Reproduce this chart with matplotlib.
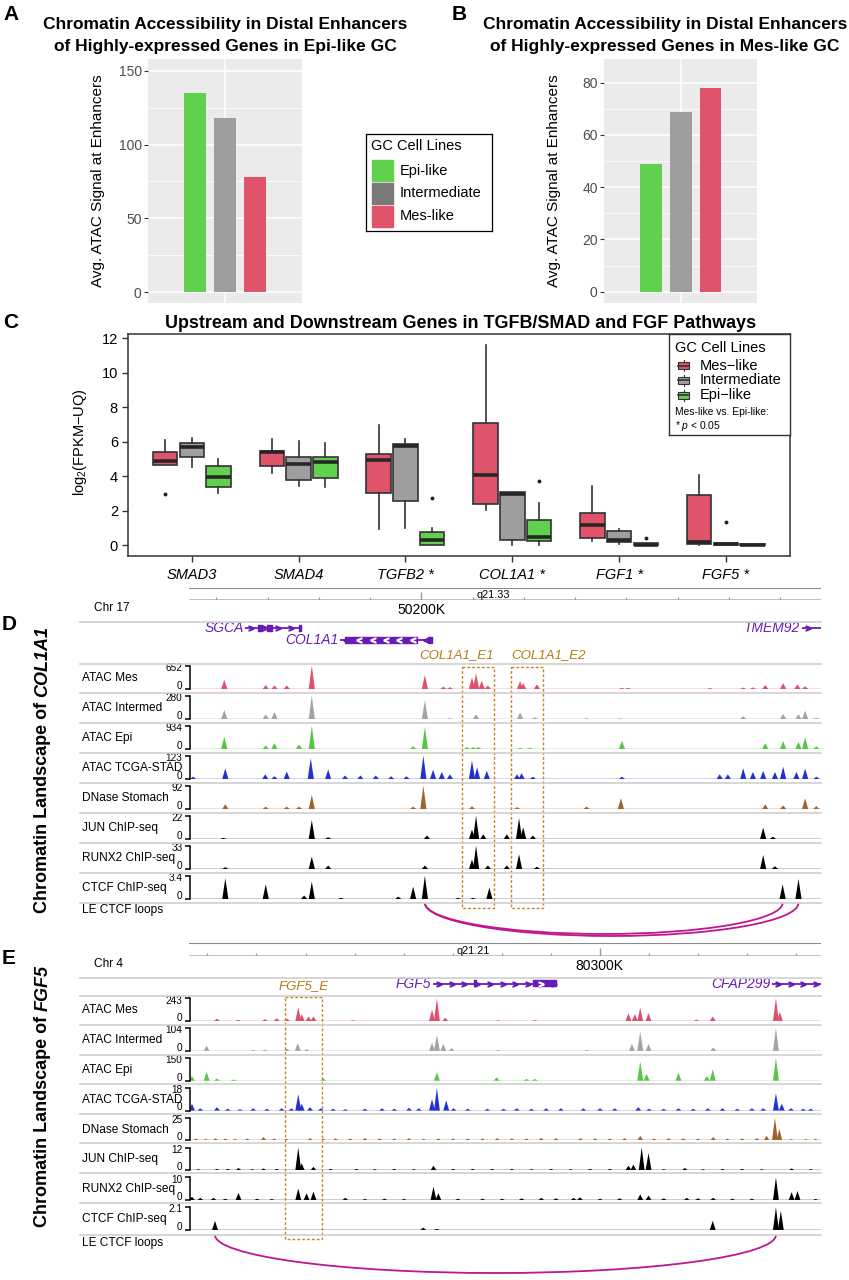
import numpy as np
import matplotlib
matplotlib.use('Agg')
import matplotlib.pyplot as plt
from matplotlib.patches import Rectangle, Arc
from matplotlib.lines import Line2D

plt.rcParams['font.family'] = ['Liberation Sans', 'DejaVu Sans']
plt.rcParams['mathtext.fontset'] = 'custom'
plt.rcParams['mathtext.rm'] = 'Liberation Sans'
plt.rcParams['mathtext.it'] = 'Liberation Sans:italic'
plt.rcParams['mathtext.bf'] = 'Liberation Sans:bold'

# ---------------- data ----------------
cell_lines = ['Epi-like', 'Intermediate', 'Mes-like']
cell_colors = ['#61D04F', '#9E9E9E', '#DF536B']
legend_key_colors = ['#61D04F', '#7A7A7A', '#DF536B']
epi_gc_signal = [134.7, 117.8, 78.3]
mes_gc_signal = [48.9, 69.0, 78.0]

genes_c = ['SMAD3', 'SMAD4', 'TGFB2 *', 'COL1A1 *', 'FGF1 *', 'FGF5 *']
mes_lo = [4.65, 4.2, 0.93, 2.03, 0.23, 0.0]
mes_q1 = [4.65, 4.61, 3.02, 2.38, 0.41, 0.04]
mes_med = [4.9, 5.37, 4.94, 4.07, 1.16, 0.16]
mes_q3 = [5.37, 5.48, 5.29, 7.1, 1.88, 2.89]
mes_hi = [6.1, 6.16, 6.98, 11.6, 3.45, 4.09]
mes_out = [[2.98], [], [], [], [], []]
int_lo = [4.55, 3.45, 0.97, 0.0, 0.04, 0.0]
int_q1 = [5.13, 3.78, 2.58, 0.29, 0.16, 0.0]
int_med = [5.68, 4.69, 5.77, 2.98, 0.31, 0.05]
int_q3 = [5.95, 5.1, 5.87, 3.06, 0.81, 0.14]
int_hi = [6.2, 6.06, 6.16, 3.06, 0.93, 0.14]
int_out = [[], [], [], [], [], [1.34]]
epi_lo = [3.04, 3.35, 0.0, 0.0, 0.0, 0.0]
epi_q1 = [3.39, 3.88, 0.0, 0.25, 0.0, 0.0]
epi_med = [3.93, 4.84, 0.31, 0.48, 0.03, 0.03]
epi_q3 = [4.59, 5.1, 0.77, 1.47, 0.09, 0.08]
epi_hi = [5.0, 5.95, 0.97, 2.46, 0.09, 0.08]
epi_out = [[], [], [2.7], [3.74], [0.39], []]

track_names = ['ATAC Mes', 'ATAC Intermed', 'ATAC Epi', 'ATAC TCGA-STAD',
               'DNase Stomach', 'JUN ChIP-seq', 'RUNX2 ChIP-seq', 'CTCF ChIP-seq']
track_colors = ['#E0506A', '#A3A3A3', '#55C843', '#2231D2', '#A0612B',
                'black', 'black', 'black']

# panel D: chr17 window (kb), peak heights relative to track max
d_max = ['652', '280', '934', '123', '92', '22', '33', '3.4']
d_mes_x = [50161.4, 50169.5, 50171.2, 50173.6, 50178.5, 50200.6, 50204.2, 50205.5, 50209.8,
           50210.6, 50211.7, 50212.9, 50219.2, 50219.8, 50222.5, 50239.1, 50240.3, 50256.3,
           50262.8, 50264.7, 50267.1, 50270.6, 50273.4, 50274.9]
d_mes_y = [0.39, 0.17, 0.15, 0.15, 1.0, 0.6, 0.1, 0.08, 0.5, 0.67, 0.35, 0.15, 0.34, 0.25,
           0.2, 0.05, 0.05, 0.04, 0.06, 0.07, 0.17, 0.25, 0.2, 0.12]
d_int_x = [50161.4, 50169.5, 50171.2, 50178.5, 50200.6, 50205.5, 50210.6, 50219.2, 50222.1,
           50232.2, 50238.7, 50262.8, 50270.6, 50273.6, 50274.9, 50277.1]
d_int_y = [0.39, 0.2, 0.3, 1.0, 0.8, 0.03, 0.2, 0.28, 0.07, 0.03, 0.03, 0.12, 0.22, 0.2,
           0.35, 0.05]
d_epi_x = [50161.4, 50169.5, 50171.2, 50176.0, 50178.5, 50198.3, 50200.6, 50208.8, 50210.0,
           50211.0, 50219.2, 50221.1, 50239.1, 50267.1, 50270.6, 50273.6, 50274.9, 50277.1]
d_epi_y = [0.53, 0.15, 0.25, 0.2, 1.0, 0.12, 0.95, 0.08, 0.08, 0.08, 0.05, 0.05, 0.35, 0.25,
           0.35, 0.3, 0.5, 0.12]
d_tcga_x = [50155.3, 50161.6, 50169.4, 50171.2, 50173.6, 50178.3, 50181.7, 50185.0, 50188.0,
            50191.0, 50194.0, 50197.0, 50200.3, 50202.2, 50203.9, 50205.5, 50209.8, 50210.8,
            50212.7, 50218.6, 50219.5, 50221.7, 50239.1, 50258.2, 50259.8, 50262.8, 50264.7,
            50266.7, 50269.0, 50270.6, 50273.2, 50274.9, 50277.1]
d_tcga_y = [0.1, 0.46, 0.2, 0.12, 0.32, 0.89, 0.4, 0.15, 0.15, 0.15, 0.12, 0.12, 1.0, 0.4,
            0.3, 0.2, 0.79, 0.5, 0.35, 0.2, 0.25, 0.1, 0.1, 0.2, 0.2, 0.46, 0.3, 0.35, 0.3,
            0.53, 0.3, 0.45, 0.1]
d_dnase_x = [50161.6, 50169.5, 50173.6, 50176.0, 50178.5, 50198.3, 50200.3, 50209.8, 50218.6,
             50232.2, 50238.9, 50267.1, 50270.6, 50274.9, 50277.1]
d_dnase_y = [0.2, 0.1, 0.1, 0.1, 0.6, 0.1, 1.0, 0.12, 0.08, 0.1, 0.46, 0.2, 0.15, 0.46, 0.12]
d_jun_x = [50161.2, 50178.5, 50181.7, 50201.0, 50209.8, 50210.6, 50212.0, 50216.6, 50219.0,
           50219.8, 50221.7, 50266.7, 50268.6]
d_jun_y = [0.05, 0.81, 0.08, 0.15, 0.4, 1.0, 0.2, 0.2, 0.89, 0.5, 0.15, 0.49, 0.1]
d_runx2_x = [50161.6, 50178.5, 50181.7, 50200.6, 50209.8, 50210.6, 50212.9, 50216.6, 50219.0,
             50222.5, 50266.7, 50269.0]
d_runx2_y = [0.08, 0.53, 0.15, 0.15, 0.4, 1.0, 0.15, 0.15, 0.63, 0.1, 0.6, 0.12]
d_ctcf_x = [50161.6, 50169.5, 50177.0, 50178.5, 50184.2, 50195.4, 50198.3, 50200.6, 50207.1,
            50210.0, 50213.2, 50270.5, 50273.6]
d_ctcf_y = [0.89, 0.63, 0.15, 0.74, 0.05, 0.1, 0.53, 1.0, 0.05, 0.05, 0.49, 0.63, 0.86]

d_genes = ['SGCA', 'COL1A1', 'TMEM92']
d_gene_start = [50165.5, 50184.0, 50274.2]
d_gene_end = [50176.3, 50202.0, 50278.0]
d_gene_strand = ['+', '-', '+']
d_gene_row = [0, 1, 0]
d_exons = [[(50168.0, 0.8), (50169.7, 1.0), (50176.0, 0.3)],
           [(50185.0, 14.0), (50201.2, 0.8)],
           []]
d_enh_names = ['COL1A1_E1', 'COL1A1_E2']
d_enh_start = [50207.8, 50217.4]
d_enh_end = [50214.1, 50223.7]
d_loop_a = [50200.6, 50200.6]
d_loop_b = [50270.5, 50273.6]

# panel E: chr4 window (kb)
e_max = ['243', '104', '150', '18', '25', '12', '10', '2.1']
e_mes_x = [80221.8, 80226.1, 80231.6, 80234.0, 80236.1, 80238.4, 80239.1, 80240.5, 80241.5,
           80249.6, 80265.7, 80266.7, 80268.4, 80279.2, 80286.7, 80305.8, 80307.1, 80308.2,
           80309.9, 80319.7, 80323.0, 80335.9, 80336.7]
e_mes_y = [0.1, 0.05, 0.08, 0.12, 0.1, 0.6, 0.3, 0.2, 0.2, 0.03, 0.5, 1.0, 0.15, 0.03, 0.04,
           0.34, 0.3, 0.59, 0.35, 0.06, 0.2, 1.0, 0.4]
e_int_x = [80219.7, 80229.2, 80231.6, 80236.1, 80238.3, 80240.1, 80265.7, 80266.7, 80268.0,
           80269.7, 80279.2, 80297.3, 80306.5, 80308.2, 80309.9, 80323.1, 80335.9]
e_int_y = [0.22, 0.04, 0.05, 0.1, 0.34, 0.08, 0.35, 0.7, 0.3, 0.12, 0.04, 0.04, 0.3, 0.85,
           0.3, 0.15, 1.0]
e_epi_x = [80216.7, 80219.7, 80221.8, 80225.2, 80243.5, 80266.7, 80278.9, 80285.0, 80286.7,
           80308.2, 80309.5, 80316.0, 80321.8, 80323.0, 80335.9]
e_epi_y = [0.2, 0.38, 0.1, 0.05, 0.1, 0.37, 0.15, 0.08, 0.08, 0.84, 0.3, 0.35, 0.2, 0.5, 1.0]
e_tcga_x = [80216.7, 80218.4, 80221.8, 80229.2, 80232.0, 80238.4, 80239.1, 80240.8, 80265.7,
            80266.7, 80268.6, 80270.1, 80280.3, 80296.6, 80307.8, 80319.0, 80333.3, 80335.9,
            80337.1, 80341.5]
e_tcga_y = [0.3, 0.1, 0.15, 0.1, 0.08, 0.72, 0.3, 0.15, 0.5, 0.99, 0.45, 0.1, 0.08, 0.1, 0.15,
            0.08, 0.1, 0.76, 0.3, 0.08]
# low background signal along the TCGA, JUN and RUNX2 tracks
e_tcga_bg_x = [80224.0, 80226.5, 80235.0, 80237.0, 80243.0, 80245.5, 80248.0, 80252.0, 80255.5,
               80258.0, 80261.0, 80263.0, 80273.0, 80277.0, 80283.0, 80286.0, 80289.0, 80292.0,
               80300.0, 80303.0, 80310.0, 80313.0, 80316.0, 80322.0, 80325.0, 80328.0, 80331.0,
               80339.0, 80343.0]
e_tcga_bg_y = [0.08, 0.06, 0.1, 0.1, 0.1, 0.08, 0.06, 0.08, 0.1, 0.08, 0.12, 0.1, 0.08, 0.08,
               0.1, 0.08, 0.1, 0.1, 0.1, 0.1, 0.08, 0.08, 0.1, 0.1, 0.1, 0.08, 0.1, 0.1, 0.08]
e_dnase_x = [80217.5, 80219.5, 80221.5, 80223.5, 80225.5, 80228.0, 80231.3, 80233.5, 80236.0,
             80240.8, 80243.5, 80246.0, 80249.0, 80252.0, 80255.0, 80258.0, 80261.0, 80264.0,
             80267.0, 80270.0, 80273.0, 80276.0, 80279.0, 80282.0, 80285.0, 80288.0, 80291.0,
             80296.0, 80299.0, 80302.0, 80305.0, 80308.2, 80311.0, 80314.0, 80317.0, 80320.0,
             80323.1, 80326.0, 80329.0, 80332.0, 80334.0, 80335.7, 80336.6, 80339.0, 80342.0,
             80344.0]
e_dnase_y = [0.08, 0.07, 0.09, 0.08, 0.07, 0.08, 0.15, 0.08, 0.07, 0.1, 0.07, 0.09, 0.08, 0.1,
             0.09, 0.08, 0.1, 0.07, 0.09, 0.08, 0.08, 0.09, 0.1, 0.09, 0.08, 0.11, 0.1, 0.1,
             0.09, 0.08, 0.1, 0.2, 0.08, 0.1, 0.09, 0.08, 0.15, 0.08, 0.09, 0.1, 0.2, 1.0, 0.5,
             0.06, 0.06, 0.07]
e_jun_x = [80221.8, 80226.2, 80231.3, 80238.4, 80239.1, 80241.5, 80250.3, 80266.0, 80305.8,
           80306.8, 80308.5, 80309.9, 80317.3, 80339.1]
e_jun_y = [0.06, 0.1, 0.08, 1.0, 0.3, 0.15, 0.06, 0.2, 0.2, 0.25, 1.0, 0.76, 0.1, 0.08]
e_jun_bg_x = [80218.0, 80224.0, 80229.0, 80234.0, 80245.0, 80254.0, 80258.0, 80262.0, 80270.0,
              80274.0, 80278.0, 80282.0, 80286.0, 80290.0, 80294.0, 80298.0, 80302.0, 80313.0,
              80321.0, 80325.0, 80329.0, 80333.0, 80343.0]
e_jun_bg_y = [0.05, 0.06, 0.05, 0.06, 0.06, 0.05, 0.06, 0.05, 0.06, 0.06, 0.06, 0.06, 0.05,
              0.06, 0.05, 0.06, 0.06, 0.05, 0.05, 0.06, 0.06, 0.05, 0.05]
e_runx2_x = [80216.7, 80218.4, 80221.1, 80226.2, 80238.4, 80240.1, 80241.5, 80248.0, 80266.0,
             80267.0, 80294.6, 80295.9, 80308.2, 80309.9, 80317.7, 80323.1, 80335.9, 80339.1,
             80340.3]
e_runx2_y = [0.15, 0.1, 0.1, 0.32, 0.51, 0.3, 0.37, 0.1, 0.59, 0.3, 0.1, 0.12, 0.25, 0.2, 0.1,
             0.1, 1.0, 0.35, 0.4]
e_runx2_bg_x = [80223.5, 80230.0, 80233.0, 80252.0, 80256.0, 80260.0, 80271.0, 80276.0,
                80280.0, 80284.0, 80288.0, 80291.0, 80300.0, 80304.0, 80313.0, 80320.0,
                80327.0, 80331.0, 80344.0]
e_runx2_bg_y = [0.06, 0.06, 0.05, 0.05, 0.06, 0.05, 0.06, 0.06, 0.06, 0.08, 0.1, 0.08, 0.06,
                0.08, 0.08, 0.08, 0.06, 0.06, 0.05]
e_ctcf_x = [80221.4, 80263.9, 80266.7, 80323.0, 80335.9, 80336.9]
e_ctcf_y = [0.4, 0.1, 0.05, 0.4, 1.0, 0.84]

e_genes = ['FGF5', 'CFAP299']
e_gene_start = [80265.9, 80335.1]
e_gene_end = [80291.0, 80345.1]
e_gene_strand = ['+', '+']
e_gene_row = [0, 0]
e_exons = [[(80274.3, 0.4), (80286.3, 4.7)], []]
e_enh_names = ['FGF5_E']
e_enh_start = [80235.7]
e_enh_end = [80243.3]
e_loop_a = [80221.4]
e_loop_b = [80335.9]

# ---------------- layout helpers ----------------
W, H = 849, 1280
fig = plt.figure(figsize=(W / 100, H / 100), dpi=100)


def rect(x0, y0, x1, y1):
    return [x0 / W, 1 - y1 / H, (x1 - x0) / W, (y1 - y0) / H]


def fx(x):
    return x / W


def fy(y):
    return 1 - y / H


def hline(y, x0, x1, color='#CFCFCF', lw=1.2):
    fig.add_artist(Line2D([fx(x0), fx(x1)], [fy(y), fy(y)], color=color, lw=lw))


def panel_letter(s, x, y):
    fig.text(fx(x), fy(y), s, fontsize=15, fontweight='bold', ha='left', va='center')


# ---------------- panels A and B ----------------
def bar_panel(box, values, ylim, majors, minors):
    ax = fig.add_axes(rect(*box))
    ax.set_facecolor('#EBEBEB')
    pos = 1 + np.array([-1, 0, 1]) * 0.233
    ax.bar(pos, values, width=0.17, color=cell_colors, zorder=3)
    ax.set_xlim(0.4, 1.6)
    ax.set_ylim(*ylim)
    ax.set_yticks(majors)
    ax.set_yticks(minors, minor=True)
    ax.set_xticks([1])
    ax.grid(which='major', color='white', lw=1.1)
    ax.grid(which='minor', axis='y', color='white', lw=0.55)
    ax.set_axisbelow(True)
    for s in ax.spines.values():
        s.set_visible(False)
    ax.tick_params(axis='x', length=0, labelbottom=False)
    ax.tick_params(axis='y', which='major', length=2.75, color='#333333',
                   labelcolor='#4D4D4D', labelsize=10, pad=2)
    ax.tick_params(axis='y', which='minor', length=0)
    return ax


bar_panel((148.3, 59.3, 301.7, 303.3), epi_gc_signal, (-7.5, 157.7),
          [0, 50, 100, 150], [25, 75, 125])
bar_panel((604.3, 59.3, 757.3, 302.7), mes_gc_signal, (-4.25, 89.0),
          [0, 20, 40, 60, 80], [10, 30, 50, 70])

panel_letter('A', 3, 14)
panel_letter('B', 452, 14)
for xc, who in [(225.5, 'Epi-like'), (665, 'Mes-like')]:
    fig.text(fx(xc), fy(25), 'Chromatin Accessibility in Distal Enhancers',
             fontsize=12.5, fontweight='bold', ha='center', va='center')
    fig.text(fx(xc), fy(47), 'of Highly-expressed Genes in %s GC' % who,
             fontsize=12.5, fontweight='bold', ha='center', va='center')
for xl in [98, 554]:
    fig.text(fx(xl), fy(181), 'Avg. ATAC Signal at Enhancers', rotation=90,
             fontsize=11, ha='center', va='center')

# shared legend for A/B
lg = fig.add_axes(rect(365.7, 134.3, 492.3, 231))
lg.set_xlim(0, 126.6)
lg.set_ylim(96.7, 0)
lg.set_xticks([])
lg.set_yticks([])
for s in lg.spines.values():
    s.set_linewidth(0.9)
    s.set_color('black')
lg.text(5.3, 11.4, 'GC Cell Lines', va='center', fontsize=10.5)
for i, (lab, col) in enumerate(zip(cell_lines, legend_key_colors)):
    y0 = 25.7 + i * 22.85
    lg.add_patch(Rectangle((6, y0), 21, 21, color=col))
    lg.text(34.3, y0 + 10.5, lab, va='center', fontsize=10.5)

# ---------------- panel C ----------------
axC = fig.add_axes(rect(127.7, 334.3, 790, 555.7))
groups = [
    (mes_lo, mes_q1, mes_med, mes_q3, mes_hi, mes_out, '#DF536B', -0.25),
    (int_lo, int_q1, int_med, int_q3, int_hi, int_out, '#9E9E9E', 0.0),
    (epi_lo, epi_q1, epi_med, epi_q3, epi_hi, epi_out, '#61D04F', 0.25),
]
cat_pos = np.arange(1, len(genes_c) + 1)
for lo, q1, med, q3, hi, out, col, off in groups:
    stats = [dict(whislo=lo[i], q1=q1[i], med=med[i], q3=q3[i], whishi=hi[i], fliers=out[i])
             for i in range(len(genes_c))]
    axC.bxp(stats, positions=cat_pos + off, widths=0.23, patch_artist=True,
            showcaps=False, manage_ticks=False,
            boxprops=dict(facecolor=col, edgecolor='#333333', lw=1.2),
            medianprops=dict(color='#262626', lw=2.6, solid_capstyle='butt'),
            whiskerprops=dict(color='#333333', lw=1.2),
            flierprops=dict(marker='o', ms=1.8, mfc='#222222', mec='#222222'))
axC.set_xlim(0.4, 6.6)
axC.set_ylim(-0.62, 12.23)
axC.set_yticks(range(0, 13, 2))
axC.set_xticks(cat_pos)
axC.set_xticklabels(genes_c, fontstyle='italic', fontsize=10.5)
axC.tick_params(axis='both', length=4, width=1, color='#333333', labelsize=10.5)
axC.tick_params(axis='x', pad=5)
axC.tick_params(axis='y', pad=3)
for s in axC.spines.values():
    s.set_color('#333333')
    s.set_linewidth(1.1)
fig.text(fx(80), fy(442), r'$\mathregular{log_2}$(FPKM$-$UQ)', rotation=90,
         fontsize=10.5, ha='center', va='center')
panel_letter('C', 3, 322)
fig.text(fx(461), fy(323), 'Upstream and Downstream Genes in TGFB/SMAD and FGF Pathways',
         fontsize=12.9, fontweight='bold', ha='center', va='center')

lc = fig.add_axes(rect(669.3, 334.3, 790, 435))
lc.set_xlim(0, 120.7)
lc.set_ylim(100.7, 0)
lc.set_xticks([])
lc.set_yticks([])
for s in lc.spines.values():
    s.set_linewidth(1.0)
    s.set_color('#333333')
lc.text(5.7, 13.4, 'GC Cell Lines', va='center', fontsize=10.5)
c_legend = ['Mes\u2212like', 'Intermediate', 'Epi\u2212like']
c_legend_cols = ['#DF536B', '#9E9E9E', '#61D04F']
for i, (lab, col) in enumerate(zip(c_legend, c_legend_cols)):
    yc = 31.4 + i * 14.7
    lc.add_patch(Rectangle((8.7, yc - 3.5), 11, 7, facecolor=col, edgecolor='#333333', lw=0.8))
    lc.plot([8.7, 19.7], [yc, yc], color='#333333', lw=1.2)
    lc.plot([14.2, 14.2], [yc - 5.5, yc - 3.5], color='#333333', lw=0.8)
    lc.plot([14.2, 14.2], [yc + 3.5, yc + 5.5], color='#333333', lw=0.8)
    lc.text(30, yc, lab, va='center', fontsize=10.5)
lc.text(5.7, 77.4, 'Mes-like vs. Epi-like:', va='center', fontsize=7.4)
lc.text(5.7, 91.7, r'* $p$ < 0.05', va='center', fontsize=7.4)


# ---------------- panels D and E ----------------
PEAK_HW = 0.6


def draw_track(box, xs, hs, color, maxlab, xlim):
    ax = fig.add_axes(rect(*box))
    for x, h in zip(xs, hs):
        ax.fill([x - PEAK_HW, x, x + PEAK_HW], [0, h, 0], color=color, lw=0)
    ax.axhline(0, color=color, lw=1.0)
    ax.set_xlim(*xlim)
    ax.set_ylim(0, 1.0)
    ax.patch.set_alpha(0)
    for k in ['top', 'right', 'bottom']:
        ax.spines[k].set_visible(False)
    ax.spines['left'].set_linewidth(1.1)
    ax.set_xticks([])
    ax.set_yticks([0, 1])
    ax.set_yticklabels([])
    ax.tick_params(axis='y', length=3.6, width=1.1)
    ax.annotate(maxlab, xy=(0, 1), xycoords='axes fraction', xytext=(-5.4, -1.6),
                textcoords='offset points', ha='right', va='center', fontsize=7.2)
    ax.annotate('0', xy=(0, 0), xycoords='axes fraction', xytext=(-5.4, 2.2),
                textcoords='offset points', ha='right', va='center', fontsize=7.2)


def draw_genes(box, xlim, names, starts, ends, strands, rows, exons, row_y, ylim):
    ax = fig.add_axes(rect(*box))
    ax.set_xlim(*xlim)
    ax.set_ylim(*ylim)
    ax.axis('off')
    purple = '#6A1BB5'
    for n, s, e, st, r, ex in zip(names, starts, ends, strands, rows, exons):
        y = row_y[r]
        mk = '$>$' if st == '+' else '$<$'
        ax.plot([s, e], [y, y], color=purple, lw=1.3, solid_capstyle='butt')
        chev = np.arange(s + 1.2, e - 0.4, 2.6)
        ax.plot(chev, [y] * len(chev), ls='none', color=purple, marker=mk, ms=3.6)
        for x0, w in ex:
            ax.broken_barh([(x0, w)], (y - 3, 6), color=purple, zorder=3)
            inner = [c for c in chev if x0 + 0.6 < c < x0 + w - 0.6]
            ax.plot(inner, [y] * len(inner), ls='none', color='white', marker=mk,
                    ms=3.6, zorder=4)
        ax.text(s - 0.3, y, n, color=purple, fontstyle='italic', fontsize=10,
                ha='right', va='center')
    return ax


def draw_ruler(box, xlim, major, band, band_x):
    ax = fig.add_axes(rect(*box))
    ax.set_xlim(*xlim)
    top = box[3] - box[1]
    ax.set_ylim(0, top)
    ax.axis('off')
    ax.axhline(top, color='#8A8A8A', lw=1.5)
    ax.axhline(0, color='#B5B5B5', lw=1.2)
    ticks = np.arange(np.ceil(xlim[0] / 10) * 10, xlim[1], 10)
    ax.vlines([t for t in ticks if t != major], 0, 3.5, color='#9A9A9A', lw=0.9)
    ax.vlines([major], 0, 8.5, color='#9A9A9A', lw=1.0)
    ax.text(major, -3.5, '%dK' % major, ha='center', va='top', fontsize=10)
    ax.text(band_x + 0.7, 5.5, band, ha='left', va='center', fontsize=7.8)


def genome_panel(xlim, ruler_box, chr_lab, chr_y, major, band, band_x, sep_ys,
                 track_top, track_step, track_h, tracks, maxes, gene_args,
                 enh_names, enh_start, enh_end, enh_ha, enh_y, box_y,
                 loops_a, loops_b, loop_box, loop_depths, loop_lab_y):
    draw_ruler(ruler_box, xlim, major, band, band_x)
    fig.text(fx(94), fy(chr_y), chr_lab, fontsize=8.6, ha='left', va='center')
    for y in sep_ys:
        hline(y, 80, 821)
    for i, (xs, hs) in enumerate(tracks):
        top = track_top + i * track_step
        draw_track((190, top, 821, top + track_h), xs, hs, track_colors[i], maxes[i], xlim)
        fig.text(fx(82), fy(top + track_h / 2 + 0.5), track_names[i], fontsize=8.6,
                 ha='left', va='center')
    gax = draw_genes(*gene_args)
    for n, s, e, ha in zip(enh_names, enh_start, enh_end, enh_ha):
        xt = {'left': s, 'right': e, 'center': (s + e) / 2}[ha]
        gax.text(xt, enh_y, n, color='#B57A14', fontstyle='italic', fontsize=9.5,
                 ha=ha, va='center')
    ov = fig.add_axes(rect(190, box_y[0] - 2, 821, box_y[1] + 2))
    ov.set_xlim(*xlim)
    ov.set_ylim(box_y[1] + 2, box_y[0] - 2)
    ov.axis('off')
    for s, e in zip(enh_start, enh_end):
        ov.add_patch(Rectangle((s, box_y[0]), e - s, box_y[1] - box_y[0], fill=False,
                               edgecolor='#C8841E', lw=1.0, ls=(0, (2, 1.5))))
    la = fig.add_axes(rect(*loop_box))
    la.set_xlim(*xlim)
    la.set_ylim(loop_box[3], loop_box[1])
    la.axis('off')
    for a, b, dpt in zip(loops_a, loops_b, loop_depths):
        la.add_patch(Arc(((a + b) / 2, loop_box[1] + 3), b - a, 2 * dpt,
                         theta1=0, theta2=180, color='#C0168E', lw=1.3))
    fig.text(fx(82), fy(loop_lab_y), 'LE CTCF loops', fontsize=8.6, ha='left', va='center')


d_xlim = (50154.7, 50278.0)
genome_panel(
    d_xlim, (189.3, 587.7, 821, 600), 'Chr 17', 608, 50200, 'q21.33', 50210,
    [622, 664, 693, 723, 753, 783, 813, 843, 873, 903],
    665.7, 30.0, 23.3,
    [(d_mes_x, d_mes_y), (d_int_x, d_int_y), (d_epi_x, d_epi_y), (d_tcga_x, d_tcga_y),
     (d_dnase_x, d_dnase_y), (d_jun_x, d_jun_y), (d_runx2_x, d_runx2_y), (d_ctcf_x, d_ctcf_y)],
    d_max,
    ((190, 622, 821, 664), d_xlim, d_genes, d_gene_start, d_gene_end, d_gene_strand,
     d_gene_row, d_exons, [6, 18], (42, 0)),
    d_enh_names, d_enh_start, d_enh_end, ['right', 'left'], 33, (666.7, 908),
    d_loop_a, d_loop_b, (190, 900, 821, 942), [31, 33], 910)
panel_letter('D', 2, 625)

e_xlim = (80216.3, 80345.1)
genome_panel(
    e_xlim, (189.3, 943.3, 821, 956), 'Chr 4', 964, 80300, 'q21.21', 80270,
    [978, 996, 1025, 1055, 1084, 1114, 1143, 1173, 1203, 1235],
    998.3, 29.85, 22.7,
    [(e_mes_x, e_mes_y), (e_int_x, e_int_y), (e_epi_x, e_epi_y),
     (e_tcga_x + e_tcga_bg_x, e_tcga_y + e_tcga_bg_y),
     (e_dnase_x, e_dnase_y),
     (e_jun_x + e_jun_bg_x, e_jun_y + e_jun_bg_y),
     (e_runx2_x + e_runx2_bg_x, e_runx2_y + e_runx2_bg_y),
     (e_ctcf_x, e_ctcf_y)],
    e_max,
    ((190, 976, 821, 996), e_xlim, e_genes, e_gene_start, e_gene_end, e_gene_strand,
     e_gene_row, e_exons, [7.5], (20, 0)),
    e_enh_names, e_enh_start, e_enh_end, ['center'], 10, (997, 1239),
    e_loop_a, e_loop_b, (190, 1232, 821, 1278), [38], 1243)
panel_letter('E', 2, 958)

# rotated y labels of D and E: bold text followed by the bold-italic gene name
for start_y, gene in [(913, 'COL1A1'), (1226.7, 'FGF5')]:
    a = fig.text(fx(43), fy(start_y), 'Chromatin Landscape of ', rotation=90, fontsize=13,
                 fontweight='bold', ha='center', va='bottom')
    ann = matplotlib.text.Annotation(gene, xy=(0.5, 1.0), xycoords=a, rotation=90,
                                     fontsize=13, fontweight='bold', fontstyle='italic',
                                     ha='center', va='bottom', annotation_clip=False)
    fig.add_artist(ann)

fig.savefig('out.png', dpi=100)
